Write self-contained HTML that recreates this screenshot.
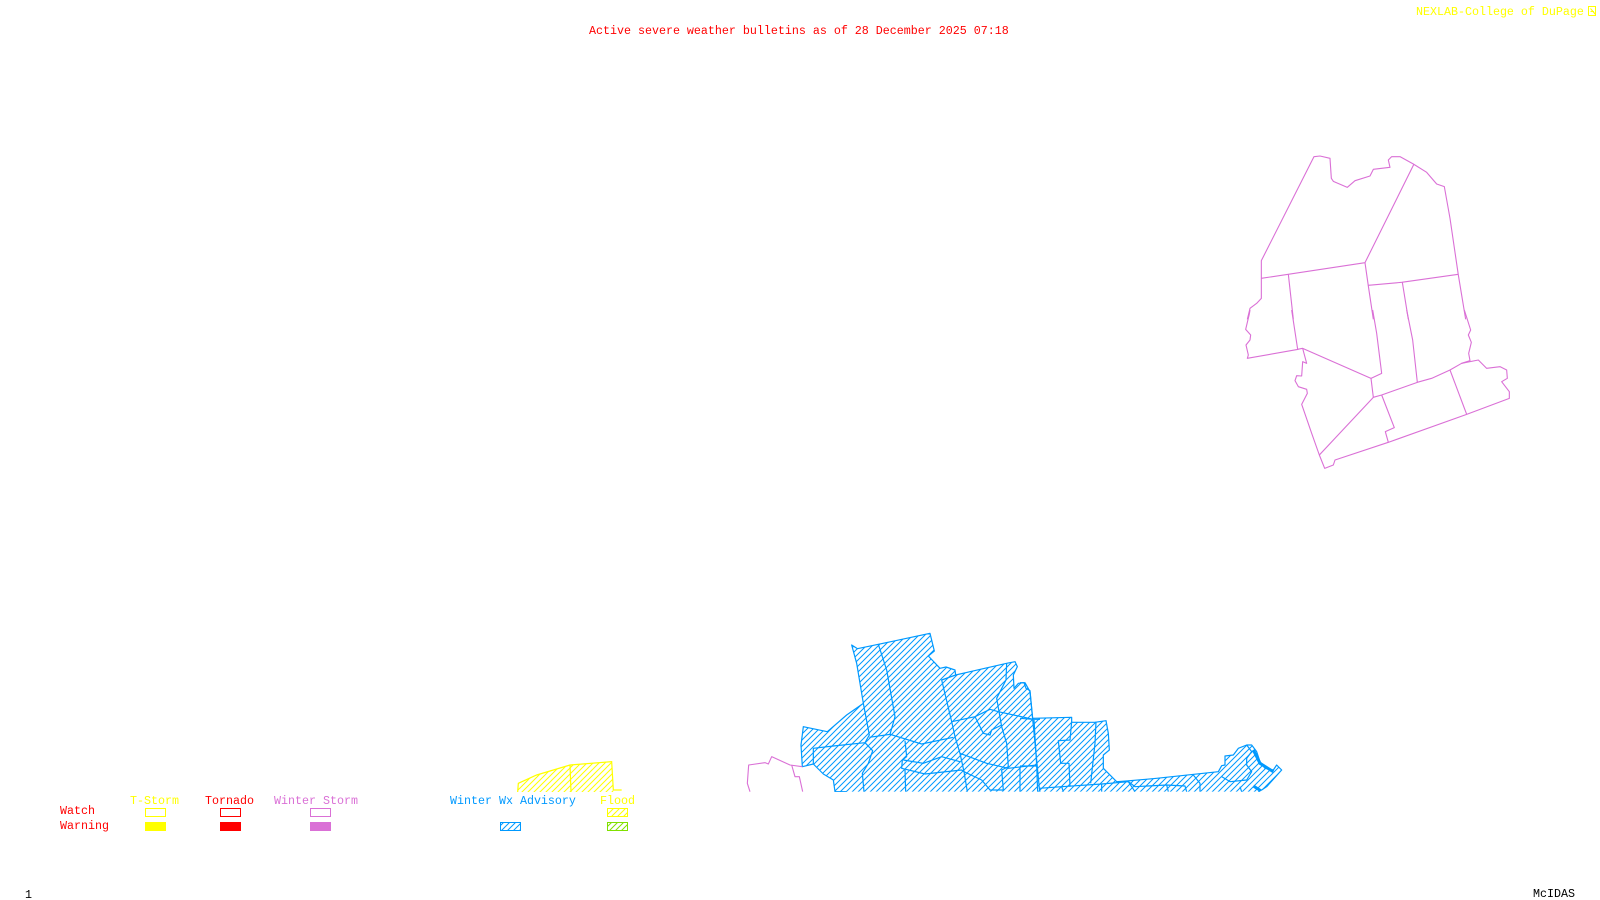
<!DOCTYPE html>
<html><head><meta charset="utf-8"><title>Active severe weather bulletins</title>
<style>
html,body{margin:0;padding:0;background:#fff;width:1600px;height:900px;overflow:hidden}
svg{display:block}
text{font-family:"Liberation Mono",monospace;font-size:11.67px;white-space:pre}
.b path{fill:none;stroke:#0099ff;stroke-width:1.2;vector-effect:non-scaling-stroke;stroke-linejoin:round}
.m path{fill:none;stroke:#da70d6;stroke-width:1.1;vector-effect:non-scaling-stroke;stroke-linejoin:round}
</style></head><body>
<svg width="1600" height="900" viewBox="0 0 1600 900" xmlns="http://www.w3.org/2000/svg">
<defs>
<pattern id="hb" width="6" height="6" patternUnits="userSpaceOnUse"><path d="M-1,7 L7,-1 M-1,1 L1,-1 M5,7 L7,5" stroke="#0099ff" stroke-width="1" fill="none"/></pattern>
<pattern id="hy" width="6" height="6" patternUnits="userSpaceOnUse"><path d="M-1,7 L7,-1 M-1,1 L1,-1 M5,7 L7,5" stroke="#ffff00" stroke-width="1" fill="none"/></pattern>
<pattern id="hg" width="6" height="6" patternUnits="userSpaceOnUse"><path d="M-1,7 L7,-1 M-1,1 L1,-1 M5,7 L7,5" stroke="#80e000" stroke-width="1" fill="none"/></pattern>
<clipPath id="cb">
<path transform="translate(740,620) scale(.33333)" d="M335,75 L352,86 L415,73 L570,40 L583,93 L565,108 L600,145 L618,141 L645,150 L647,165 L690,155 L800,130 L825,125 L832,140 L820,165 L822,205 L835,190 L852,188 L858,205 L870,212 L878,298 L900,298 L900,515 L285,515 L280,480 L250,462 L220,432 L187,440 L183,375 L190,320 L262,335 L320,285 L370,250 L350,130 Z"/>
<path transform="translate(1020,680) scale(.33333)" d="M0,8 L15,8 L30,35 L38,115 L155,112 L155,127 L225,127 L258,122 L265,160 L268,210 L250,225 L250,265 L290,305 L320,303 L410,295 L595,275 L605,257 L615,255 L615,228 L640,225 L655,205 L680,195 L695,195 L710,215 L720,245 L735,265 L760,270 L770,255 L785,270 L740,320 L725,330 L715,335 L0,335 Z"/>
</clipPath>
<clipPath id="cy"><path transform="translate(430,750) scale(.33333)" d="M263,126 L265,100 L320,75 L420,45 L545,35 L550,126 Z"/></clipPath>
<clipPath id="cm"><rect x="0" y="0" width="1600" height="792"/></clipPath>
</defs>
<rect width="1600" height="900" fill="#fff"/>

<!-- Blue winter advisory -->
<rect x="730" y="620" width="560" height="172" fill="url(#hb)" clip-path="url(#cb)"/>
<g class="b" clip-path="url(#cm)">
<g transform="translate(740,620) scale(.33333)">
<path d="M900,298 L878,298 L870,212 L858,205 L852,188 L835,190 L822,205 L820,165 L832,140 L825,125 L800,130 L690,155 L647,165 L645,150 L618,141 L600,145 L565,108 L583,93 L570,40 L415,73 L352,86 L335,75 L350,130 L370,250 L320,285 L262,335 L190,320 L183,375 L187,440 L220,432 L250,462 L280,480 L285,515 L320,515"/>
<path d="M415,73 L440,150 L465,290 L450,343"/>
<path d="M370,250 L388,345 L375,368 L280,378 L220,385 L220,432"/>
<path d="M388,352 L450,343 L545,372 L640,352"/>
<path d="M647,165 L605,180 L635,305 L645,350 L660,400 L672,455 L682,515"/>
<path d="M375,368 L398,392 L385,430 L367,460 L372,515"/>
<path d="M495,362 L500,410 L487,420 L485,445 L555,462 L665,450 L672,455"/>
<path d="M490,420 L550,430 L605,410 L660,425"/>
<path d="M495,450 L497,515"/>
<path d="M635,305 L705,290 L750,268 L775,275 L880,298"/>
<path d="M705,290 L730,340 L750,345 L755,330 L785,315"/>
<path d="M800,130 L798,180 L770,235 L785,320 L800,370 L805,440 L785,450 L790,510"/>
<path d="M660,400 L740,430 L805,445 L890,435"/>
<path d="M840,440 L840,515"/>
<path d="M882,300 L890,435 L893,515"/>
<path d="M672,455 L725,480 L750,510 L790,510"/>
</g>
<g transform="translate(1020,680) scale(.33333)">
<path d="M0,8 L15,8 L30,35 L38,115 L155,112 L155,127 L225,127 L258,122 L265,160 L268,210 L250,225 L250,265 L290,305 L320,303 L410,295 L595,275 L605,257 L615,255 L615,228 L640,225 L655,205 L680,195 L695,195 L710,215 L720,245 L735,265 L760,270 L770,255 L785,270 L740,320 L725,330 L715,335"/>
<path d="M0,115 L38,118 L50,240 L58,325 L60,335"/>
<path d="M0,258 L50,258"/>
<path d="M58,325 L125,320 L245,312 L325,305 L345,335"/>
<path d="M155,125 L150,180 L115,182 L122,250 L147,250 L150,320"/>
<path d="M228,125 L225,190 L212,310"/>
<path d="M125,320 L130,335 M245,312 L245,335"/>
<path d="M325,305 L345,320 L440,315 L445,335 M440,315 L495,318 L500,335"/>
<path d="M520,285 L540,310 L540,335"/>
<path d="M605,290 L630,305 L680,300 L695,275 L680,255 L680,235 L695,215 L680,195"/>
<path d="M660,320 L665,335"/>
<path d="M700,210 L720,250 L760,275" style="stroke-width:3"/>
<path d="M700,318 L722,332" style="stroke-width:3"/>
</g>
</g>

<!-- Magenta fragment beside blue area -->
<g class="m" clip-path="url(#cm)" transform="translate(740,620) scale(.33333)">
<path d="M30,515 L22,490 L26,435 L75,428 L85,432 L95,410 L150,435 L187,440"/>
<path d="M155,435 L165,470 L178,470 L188,515"/>
</g>

<!-- Yellow flood -->
<rect x="510" y="755" width="110" height="37" fill="url(#hy)" clip-path="url(#cy)"/>
<g clip-path="url(#cm)" transform="translate(430,750) scale(.33333)">
<path d="M263,126 L265,100 L320,75 L420,45 L545,35 L550,120 L575,120 M420,45 L423,126" fill="none" stroke="#ffff00" stroke-width="1.2" vector-effect="non-scaling-stroke"/>
</g>

<!-- Magenta NE -->
<g class="m">
<g transform="translate(1230,140) scale(.33333)">
<path d="M52,538 L60,505 L80,490 L94,475 L94,362 L252,50 L270,48 L300,55 L304,115 L310,124 L352,142 L375,122 L420,108 L430,88 L480,82 L475,60 L485,50 L510,50 L550,72 L590,97 L620,132 L643,140 L660,235 L685,405 L707,538"/>
<path d="M94,415 L405,368 L552,72"/>
<path d="M405,368 L415,438 L430,538"/>
<path d="M415,436 L515,427 L685,403"/>
<path d="M517,427 L535,538"/>
<path d="M175,403 L190,538"/>
</g>
<g transform="translate(1230,310) scale(.33333)">
<path d="M60,0 L58,12 L47,58 L62,75 L60,90 L48,105 L55,135 L52,145 L205,118"/>
<path d="M185,0 L203,118 L218,115 L423,205 L455,190 L440,70 L428,0"/>
<path d="M530,0 L548,90 L562,217"/>
<path d="M703,0 L722,60 L715,75 L724,97 L716,130 L720,152 L695,160 L660,180 L605,205 L562,217 L455,255 L430,262 L423,205"/>
<path d="M695,160 L745,150 L770,175 L810,170 L830,180 L832,205 L815,215 L838,245 L838,265 L710,313 L475,397 L315,450 L310,465 L284,475 L268,435 L245,370 L215,283 L232,250 L230,238 L205,230 L195,212 L200,197 L215,198 L218,155 L230,160 L218,115"/>
<path d="M268,435 L430,262"/>
<path d="M455,255 L493,353 L466,365 L475,397"/>
<path d="M660,180 L710,313"/>
</g>
</g>

<!-- Title texts -->
<text x="589" y="34" fill="#ff0000">Active severe weather bulletins as of 28 December 2025 07:18</text>
<text x="1416" y="15" fill="#ffff00">NEXLAB-College of DuPage</text>
<g fill="none" stroke="#ffff00" stroke-width="1"><path d="M1588.5,15.5 V6.5 H1595.5 V15.5 H1588.5 M1590.5,8.5 L1595.5,14.5 M1590.5,11.5 H1594"/></g>

<!-- Legend -->
<text x="130" y="804" fill="#ffff00">T-Storm</text>
<text x="205" y="804" fill="#ff0000">Tornado</text>
<text x="274" y="804" fill="#da70d6">Winter Storm</text>
<text x="450" y="804" fill="#0099ff">Winter Wx Advisory</text>
<text x="600" y="804" fill="#ffff00">Flood</text>
<text x="60" y="814" fill="#ff0000">Watch</text>
<text x="60" y="829" fill="#ff0000">Warning</text>

<rect x="145.5" y="808.5" width="20" height="8" fill="none" stroke="#ffff00"/>
<rect x="145" y="822" width="21" height="9" fill="#ffff00"/>
<rect x="220.5" y="808.5" width="20" height="8" fill="none" stroke="#ff0000"/>
<rect x="220" y="822" width="21" height="9" fill="#ff0000"/>
<rect x="310.5" y="808.5" width="20" height="8" fill="none" stroke="#da70d6"/>
<rect x="310" y="822" width="21" height="9" fill="#da70d6"/>
<rect x="500.5" y="822.5" width="20" height="8" fill="url(#hb)" stroke="#0099ff"/>
<rect x="607.5" y="808.5" width="20" height="8" fill="url(#hy)" stroke="#ffff00"/>
<rect x="607.5" y="822.5" width="20" height="8" fill="url(#hg)" stroke="#80e000"/>

<text x="25" y="898" fill="#000">1</text>
<text x="1533" y="897" fill="#000">McIDAS</text>
</svg>
</body></html>
